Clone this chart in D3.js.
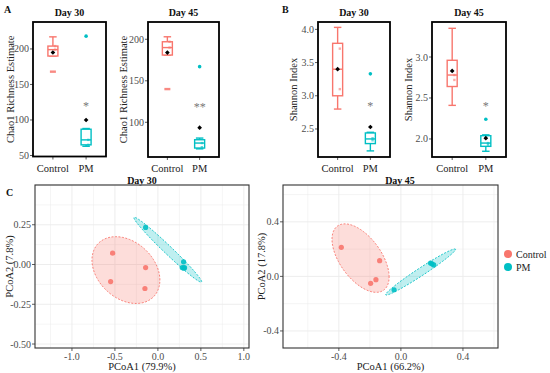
<!DOCTYPE html>
<html>
<head>
<meta charset="utf-8">
<script src="https://cdn.jsdelivr.net/npm/d3@7"></script>
<style>
  body { margin: 0; background: #fff; }
  svg text { font-family: 'Liberation Serif', 'Times New Roman', 'DejaVu Serif', serif; }
  .tick-label { fill: #4d4d4d; font-size: 10px; }
  .axis-title { fill: #222; font-size: 10.5px; }
  .title { font-size: 10px; font-weight: bold; fill: #111; }
  .panel-tag { font-size: 10px; font-weight: bold; fill: #111; }
</style>
</head>
<body>
<svg id="chart" width="550" height="373"></svg>
<script>
// groups and colours
const groups = ['Control', 'PM'];
const colors = ['#F8766D', '#00BFC4'];

// box stats per group: [whisker low, q1, median, q3, whisker high]
const chao30Box = [[190, 190, 199, 204, 217], [63, 65, 72, 87, 88]];
const chao30Out = [[168], [218]];
const chao30Mean = [195, 100];
const chao45Box = [[181, 181, 190, 197, 203], [68, 69, 75, 79, 81]];
const chao45Out = [[140], [167]];
const chao45Mean = [184, 93.5];
const shan30Box = [[2.80, 3.00, 3.40, 3.79, 4.03], [2.17, 2.28, 2.35, 2.44, 2.45]];
const shan30Out = [[], [3.33]];
const shan30Mean = [3.40, 2.53];
const shan45Box = [[2.41, 2.64, 2.78, 2.96, 3.35], [1.85, 1.91, 1.95, 2.04, 2.05]];
const shan45Out = [[], [2.24]];
const shan45Mean = [2.83, 2.01];

// jittered sample points shown inside the boxes
const chao30Pts = [[204, 199], [72, 65]];
const chao45Pts = [[197, 190], [75, 70]];
const shan30Pts = [[3.71, 3.10], [2.36, 2.33]];
const shan45Pts = [[2.78, 2.72], [1.95, 1.93]];

// significance marks (placed on the PM group)
const stars = ['*', '**', '*', '*'];
const starY = [124, 123, 2.90, 2.45];

// tick labels
const chao30Ticks = [50, 100, 150, 200];
const chao45Ticks = [100, 150, 200];
const shan30Ticks = [2.5, 3.0, 3.5, 4.0];
const shan45Ticks = [2.0, 2.5, 3.0];

// PCoA coordinates
const pc30Control = [[-0.527, 0.071], [-0.143, -0.019], [-0.55, -0.107], [-0.151, -0.151]];
const pc30PM = [[-0.143, 0.233], [0.299, 0.017], [0.283, -0.019], [0.302, -0.023], [0.31, -0.02]];
const pc45Control = [[-0.384, 0.213], [-0.137, 0.115], [-0.161, -0.024], [-0.195, -0.051]];
const pc45PM = [[-0.044, -0.098], [0.191, 0.098], [0.212, 0.084], [0.2, 0.092]];

// ellipses: [cx, cy, x half-range, y half-range, cos(phase)]
const pc30Ellipse = [[-0.372, -0.035, 0.395, 0.21, -0.3], [0.115, 0.093, 0.394, 0.204, -0.985]];
const pc45Ellipse = [[-0.26, 0.134, 0.184, 0.251, -0.55], [0.127, 0.032, 0.225, 0.169, 0.98]];

const pc30XTicks = [-1.0, -0.5, 0.0, 0.5, 1.0];
const pc30YTicks = [-0.50, -0.25, 0.0, 0.25];
const pc45XTicks = [-0.4, 0.0, 0.4];
const pc45YTicks = [-0.4, 0.0, 0.4];

const svg = d3.select('#chart');
svg.append('rect').attr('width', 550).attr('height', 373).attr('fill', '#fff');

function drawBoxPanel({ x0, x1, y0, y1, domain, ticks, fmt, title, yTitle, yTitleX, box, out, mean, pts, star, starV }) {
  const x = d3.scalePoint().domain(groups).range([x0, x1]).padding(0.6);
  const y = d3.scaleLinear().domain(domain).range([y1, y0]);
  const g = svg.append('g');

  g.append('text').attr('class', 'title')
    .attr('x', (x0 + x1) / 2).attr('y', 16).attr('text-anchor', 'middle').text(title);

  g.append('text').attr('class', 'axis-title')
    .attr('transform', `translate(${yTitleX},${(y0 + y1) / 2}) rotate(-90)`)
    .attr('text-anchor', 'middle').attr('dy', '0.35em').text(yTitle);

  // y ticks
  const yt = g.selectAll('.yt').data(ticks).enter().append('g')
    .attr('transform', d => `translate(${x0},${y(d)})`);
  yt.append('line').attr('x1', -3).attr('x2', 0).attr('stroke', '#333').attr('stroke-width', 0.8);
  yt.append('text').attr('class', 'tick-label').attr('x', -4).attr('dy', '0.35em')
    .attr('text-anchor', 'end').text(d => d3.format(fmt)(d));

  // x ticks
  const xt = g.selectAll('.xt').data(groups).enter().append('g')
    .attr('transform', d => `translate(${x(d)},${y1})`);
  xt.append('line').attr('y1', 0).attr('y2', 3).attr('stroke', '#333').attr('stroke-width', 0.8);
  xt.append('text').attr('class', 'tick-label').attr('y', 15).attr('text-anchor', 'middle')
    .style('fill', '#222').style('font-size', '10.5px').text(d => d);

  const bw = 10, cw = 7.5;
  groups.forEach((grp, i) => {
    const cx = x(grp);
    const [lo, q1, med, q3, hi] = box[i];
    const col = colors[i];
    const bg = g.append('g').attr('stroke', col).attr('fill', 'none').attr('stroke-width', 1.4);
    // whiskers + caps
    bg.append('line').attr('x1', cx).attr('x2', cx).attr('y1', y(hi)).attr('y2', y(q3));
    bg.append('line').attr('x1', cx).attr('x2', cx).attr('y1', y(q1)).attr('y2', y(lo));
    bg.append('line').attr('x1', cx - cw / 2).attr('x2', cx + cw / 2).attr('y1', y(hi)).attr('y2', y(hi));
    bg.append('line').attr('x1', cx - cw / 2).attr('x2', cx + cw / 2).attr('y1', y(lo)).attr('y2', y(lo));
    bg.append('rect').attr('x', cx - bw / 2).attr('width', bw)
      .attr('y', y(q3)).attr('height', Math.max(1, y(q1) - y(q3))).attr('fill', '#fff');
    bg.append('line').attr('x1', cx - bw / 2).attr('x2', cx + bw / 2).attr('y1', y(med)).attr('y2', y(med));

    // sample points
    g.selectAll(null).data(pts[i]).enter().append('rect')
      .attr('x', cx + 1).attr('y', d => y(d) - 1.2).attr('width', 2.4).attr('height', 2.4)
      .attr('fill', col).attr('opacity', 0.6);

    // outliers
    out[i].forEach(v => {
      if (i === 0) {
        g.append('rect').attr('x', cx - 3).attr('y', y(v) - 1.2).attr('width', 6).attr('height', 2.4)
          .attr('fill', col).attr('opacity', 0.85);
      } else {
        g.append('circle').attr('cx', cx).attr('cy', y(v)).attr('r', 1.8).attr('fill', col);
      }
    });

    // mean
    g.append('path').attr('d', d3.symbol(d3.symbolDiamond2, 14)())
      .attr('transform', `translate(${cx},${y(mean[i])})`).attr('fill', '#000');
  });

  g.append('text').attr('x', x('PM')).attr('y', y(starV)).attr('dy', '0.62em')
    .attr('text-anchor', 'middle').attr('fill', '#777').style('font-size', '12px').text(star);

  g.append('rect').attr('x', x0).attr('y', y0).attr('width', x1 - x0).attr('height', y1 - y0)
    .attr('fill', 'none').attr('stroke', '#000').attr('stroke-width', 1.8);
}

drawBoxPanel({ x0: 33, x1: 106, y0: 22, y1: 156.5, domain: [48.6, 237.9], ticks: chao30Ticks, fmt: 'd',
  title: 'Day 30', yTitle: 'Chao1 Richness Estimate', yTitleX: 10,
  box: chao30Box, out: chao30Out, mean: chao30Mean, pts: chao30Pts, star: stars[0], starV: starY[0] });
drawBoxPanel({ x0: 148, x1: 219, y0: 22, y1: 157, domain: [58.2, 220.8], ticks: chao45Ticks, fmt: 'd',
  title: 'Day 45', yTitle: 'Chao1 Richness Estimate', yTitleX: 123,
  box: chao45Box, out: chao45Out, mean: chao45Mean, pts: chao45Pts, star: stars[1], starV: starY[1] });
drawBoxPanel({ x0: 318, x1: 390, y0: 22, y1: 157, domain: [2.078, 4.111], ticks: shan30Ticks, fmt: '.1f',
  title: 'Day 30', yTitle: 'Shannon Index', yTitleX: 293,
  box: shan30Box, out: shan30Out, mean: shan30Mean, pts: shan30Pts, star: stars[2], starV: starY[2] });
drawBoxPanel({ x0: 432, x1: 506, y0: 22, y1: 157, domain: [1.78, 3.427], ticks: shan45Ticks, fmt: '.1f',
  title: 'Day 45', yTitle: 'Shannon Index', yTitleX: 408,
  box: shan45Box, out: shan45Out, mean: shan45Mean, pts: shan45Pts, star: stars[3], starV: starY[3] });

function midpoints(step, domain) {
  const [a, b] = domain;
  return d3.range(Math.floor(a / step) * step + step / 2, b, step).filter(v => v > a && v < b);
}

function majors(step, domain) {
  const [a, b] = domain;
  return d3.range(Math.ceil(a / step) * step, b + 1e-9, step).filter(v => v > a && v < b + 1e-9);
}

function drawPcoa({ x0, x1, y0, y1, xDomain, yDomain, xTicks, yTicks, xFmt, yFmt, title, titleX, xTitle, yTitle, yTitleX, ctrl, pm, ell }) {
  const x = d3.scaleLinear().domain(xDomain).range([x0, x1]);
  const y = d3.scaleLinear().domain(yDomain).range([y1, y0]);
  const g = svg.append('g');

  g.append('text').attr('class', 'title').attr('x', titleX).attr('y', 184)
    .attr('text-anchor', 'middle').text(title);

  // grid (minor then major)
  const xs = xTicks[1] - xTicks[0], ys = yTicks[1] - yTicks[0];
  const grid = g.append('g').attr('stroke', '#ebebeb');
  grid.selectAll(null).data(midpoints(xs, xDomain)).enter().append('line')
    .attr('x1', d => x(d)).attr('x2', d => x(d)).attr('y1', y0).attr('y2', y1).attr('stroke-width', 0.5);
  grid.selectAll(null).data(midpoints(ys, yDomain)).enter().append('line')
    .attr('y1', d => y(d)).attr('y2', d => y(d)).attr('x1', x0).attr('x2', x1).attr('stroke-width', 0.5);
  grid.selectAll(null).data(majors(xs, xDomain)).enter().append('line')
    .attr('x1', d => x(d)).attr('x2', d => x(d)).attr('y1', y0).attr('y2', y1).attr('stroke-width', 0.9);
  grid.selectAll(null).data(majors(ys, yDomain)).enter().append('line')
    .attr('y1', d => y(d)).attr('y2', d => y(d)).attr('x1', x0).attr('x2', x1).attr('stroke-width', 0.9);

  // ellipses
  ell.forEach((e, i) => {
    const [cx, cy, a, b, c] = e;
    const phi = Math.acos(c);
    const pts = d3.range(0, 2 * Math.PI + 0.01, Math.PI / 60).map(t => [x(cx + a * Math.cos(t)), y(cy + b * Math.cos(t - phi))]);
    g.append('path').attr('d', d3.line()(pts) + 'Z')
      .attr('fill', colors[i]).attr('fill-opacity', 0.25)
      .attr('stroke', colors[i]).attr('stroke-width', 0.9).attr('stroke-dasharray', '2,1.5');
  });

  [ctrl, pm].forEach((set, i) => {
    g.selectAll(null).data(set).enter().append('circle')
      .attr('cx', d => x(d[0])).attr('cy', d => y(d[1])).attr('r', 2.6)
      .attr('fill', colors[i]).attr('opacity', 0.9);
  });

  // axes
  const xt = g.selectAll(null).data(xTicks).enter().append('g').attr('transform', d => `translate(${x(d)},${y1})`);
  xt.append('line').attr('y2', 3).attr('stroke', '#333').attr('stroke-width', 0.8);
  xt.append('text').attr('class', 'tick-label').attr('y', 12).attr('text-anchor', 'middle').text(d => d3.format(xFmt)(d).replace('−', '-'));
  const yt = g.selectAll(null).data(yTicks).enter().append('g').attr('transform', d => `translate(${x0},${y(d)})`);
  yt.append('line').attr('x1', -3).attr('stroke', '#333').attr('stroke-width', 0.8);
  yt.append('text').attr('class', 'tick-label').attr('x', -4).attr('dy', '0.35em').attr('text-anchor', 'end').text(d => d3.format(yFmt)(d).replace('−', '-'));

  g.append('text').attr('class', 'axis-title').attr('x', (x0 + x1) / 2).attr('y', 370).attr('text-anchor', 'middle').text(xTitle);
  g.append('text').attr('class', 'axis-title')
    .attr('transform', `translate(${yTitleX},${(y0 + y1) / 2}) rotate(-90)`)
    .attr('text-anchor', 'middle').attr('dy', '0.35em').text(yTitle);

  g.append('rect').attr('x', x0).attr('y', y0).attr('width', x1 - x0).attr('height', y1 - y0)
    .attr('fill', 'none').attr('stroke', '#333').attr('stroke-width', 1.1);
}

drawPcoa({ x0: 35, x1: 249, y0: 185, y1: 348, xDomain: [-1.43, 1.06], yDomain: [-0.525, 0.5],
  xTicks: pc30XTicks, yTicks: pc30YTicks, xFmt: '.1f', yFmt: '.2f', title: 'Day 30', titleX: 142,
  xTitle: 'PCoA1 (79.9%)', yTitle: 'PCoA2 (7.8%)', yTitleX: 9, ctrl: pc30Control, pm: pc30PM, ell: pc30Ellipse });
drawPcoa({ x0: 283, x1: 498, y0: 185, y1: 348, xDomain: [-0.76, 0.626], yDomain: [-0.525, 0.67],
  xTicks: pc45XTicks, yTicks: pc45YTicks, xFmt: '.1f', yFmt: '.1f', title: 'Day 45', titleX: 400,
  xTitle: 'PCoA1 (66.2%)', yTitle: 'PCoA2 (17.8%)', yTitleX: 261, ctrl: pc45Control, pm: pc45PM, ell: pc45Ellipse });

// legend
const leg = svg.append('g').attr('transform', 'translate(508,254)');
groups.forEach((grp, i) => {
  leg.append('circle').attr('cx', 0).attr('cy', i * 13).attr('r', 4).attr('fill', colors[i]);
  leg.append('text').attr('x', 8).attr('y', i * 13).attr('dy', '0.35em').style('font-size', '10px').attr('fill', '#222').text(grp);
});

// panel tags
svg.append('text').attr('class', 'panel-tag').attr('x', 4).attr('y', 13).text('A');
svg.append('text').attr('class', 'panel-tag').attr('x', 282).attr('y', 13).text('B');
svg.append('text').attr('class', 'panel-tag').attr('x', 6).attr('y', 196).text('C');
</script>
</body>
</html>
